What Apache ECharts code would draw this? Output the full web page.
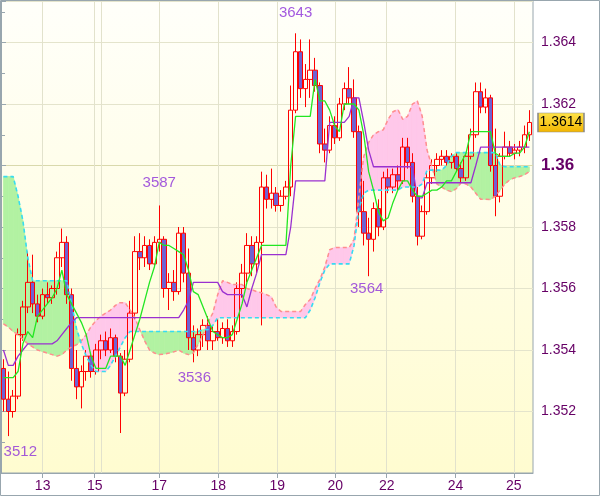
<!DOCTYPE html>
<html><head><meta charset="utf-8">
<script src="https://cdn.jsdelivr.net/npm/echarts@6/dist/echarts.min.js"></script>
<style>html,body{margin:0;padding:0;background:#fff}#c{width:600px;height:497px}</style>
</head><body><div id="c"></div>
<script>
// time of each 2-hour bar, in hours from chart start
const barTime = [1,3,5,7,9,11,13,15,17,19,21,23,25,27,29,31,33,35,37,39,41,43,45,47,49,51,53,55,57,59,61,63,65,67,69,71,73,75,77,79,81,83,85,87,89,91,93,95,97,99,101,103,105,107,109,111,113,115,117,119,121,123,125,127,129,131,133,135,137,139,141,143,145,147,149,151,153,155,157,159,161,163,165,167,169,171,173,175,177,179,181,183,185,187,189,191,193,195,197,199,201,203,205,207,209,211,213,215,217];

const open = [1.3534,1.3524,1.3520,1.3525,1.3545,1.3554,1.3562,1.3555,1.3551,1.3558,
1.3557,1.3560,1.3570,1.3575,1.3558,1.3534,1.3528,1.3533,1.3538,1.3533,
1.3540,1.3543,1.3540,1.3544,1.3538,1.3526,1.3537,1.3552,1.3572,1.3570,
1.3574,1.3568,1.3575,1.3576,1.3560,1.3562,1.3559,1.3578,1.3565,1.3544,
1.3540,1.3545,1.3548,1.3543,1.3546,1.3544,1.3547,1.3543,1.3546,1.3560,
1.3565,1.3574,1.3568,1.3575,1.3593,1.3589,1.3591,1.3587,1.3590,1.3593,
1.3618,1.3637,1.3625,1.3628,1.3631,1.3626,1.3607,1.3605,1.3613,1.3609,
1.3620,1.3625,1.3622,1.3611,1.3585,1.3578,1.3576,1.3586,1.3580,1.3596,
1.3593,1.3597,1.3595,1.3606,1.3601,1.3590,1.3577,1.3585,1.3596,1.3600,
1.3602,1.3603,1.3601,1.3603,1.3599,1.3596,1.3603,1.3610,1.3624,1.3619,
1.3622,1.3600,1.3590,1.3603,1.3606,1.3604,1.3605,1.3606,1.3610];
const high = [1.3537,1.3533,1.3527,1.3547,1.3556,1.3572,1.3571,1.3558,1.3560,1.3562,
1.3561,1.3572,1.35795,1.3577,1.3560,1.3540,1.3535,1.3540,1.3539,1.3542,
1.3545,1.3546,1.3547,1.3545,1.3539,1.3540,1.3556,1.3577,1.3578,1.3577,
1.3576,1.3577,1.3587,1.3577,1.3565,1.3566,1.3580,1.3580,1.3573,1.3548,
1.3547,1.3550,1.3551,1.3548,1.3550,1.3549,1.3550,1.3548,1.3562,1.3568,
1.3578,1.3577,1.3577,1.3598,1.3597,1.3599,1.3593,1.3592,1.3595,1.3626,
1.3643,1.3641,1.3633,1.3641,1.3635,1.3627,1.3612,1.3616,1.3616,1.3622,
1.3627,1.3632,1.3628,1.3613,1.3595,1.3583,1.3588,1.3589,1.3598,1.3599,
1.3599,1.3600,1.3609,1.3609,1.3604,1.3593,1.3587,1.3598,1.3602,1.3604,
1.3605,1.3605,1.3604,1.3604,1.3601,1.3604,1.3612,1.3627,1.3627,1.3625,
1.3623,1.3612,1.3604,1.3611,1.3608,1.3607,1.3608,1.3613,1.3618];
const low = [1.3520,1.3512,1.3518,1.3524,1.3543,1.3552,1.3552,1.3549,1.3550,1.3555,
1.3555,1.3558,1.3567,1.3555,1.3530,1.3524,1.3521,1.3530,1.3531,1.3532,
1.3537,1.3538,1.3539,1.3536,1.3513,1.3525,1.3536,1.3550,1.3566,1.3567,
1.3566,1.3567,1.3572,1.3557,1.3553,1.3556,1.3558,1.3562,1.3540,1.3536,
1.3538,1.3541,1.3540,1.3540,1.3543,1.3542,1.3541,1.3541,1.3545,1.3557,
1.3562,1.3564,1.3565,1.3548,1.3586,1.3586,1.3585,1.3585,1.3589,1.3590,
1.3617,1.3622,1.3619,1.3622,1.3624,1.3604,1.3601,1.3604,1.3607,1.3608,
1.3618,1.3620,1.3609,1.3580,1.3574,1.3564,1.3572,1.3577,1.3579,1.3591,
1.3591,1.3592,1.3594,1.3599,1.3588,1.3574,1.3576,1.3584,1.3594,1.3598,
1.3600,1.3600,1.3599,1.3598,1.3594,1.3595,1.3602,1.3609,1.3617,1.3617,
1.3598,1.35835,1.3588,1.3602,1.3603,1.3602,1.3603,1.3604,1.3608];
const close = [1.3524,1.3520,1.3525,1.3545,1.3554,1.3562,1.3555,1.3551,1.3558,1.3557,
1.3560,1.3570,1.3575,1.3558,1.3534,1.3528,1.3533,1.3538,1.3533,1.3540,
1.3543,1.3540,1.3544,1.3538,1.3526,1.3537,1.3552,1.3572,1.3570,1.3574,
1.3568,1.3575,1.3576,1.3560,1.3562,1.3559,1.3578,1.3565,1.3544,1.3540,
1.3545,1.3548,1.3543,1.3546,1.3544,1.3547,1.3543,1.3546,1.3560,1.3565,
1.3574,1.3568,1.3575,1.3593,1.3589,1.3591,1.3587,1.3590,1.3593,1.3618,
1.3637,1.3625,1.3628,1.3631,1.3626,1.3607,1.3605,1.3613,1.3609,1.3620,
1.3625,1.3622,1.3611,1.3585,1.3578,1.3576,1.3586,1.3580,1.3596,1.3593,
1.3597,1.3595,1.3606,1.3601,1.3590,1.3577,1.3585,1.3596,1.3600,1.3602,
1.3603,1.3601,1.3603,1.3599,1.3596,1.3603,1.3610,1.3624,1.3619,1.3622,
1.3600,1.3590,1.3603,1.3606,1.3604,1.3605,1.3606,1.3610,1.3614];

const tenkan = [1.3531,1.3531,1.3531,1.3533,1.3542,1.3546,1.3544,1.3551,1.3553,1.3555,
1.3557,1.3560,1.3566,1.3558,1.3555,1.3552,1.3549,1.3545,1.3538,1.3534,
1.3534,1.3534,1.3538,1.3538,1.3538,1.3535,1.3540,1.3545,1.3550,1.3556,
1.3562,1.3567,1.3575,1.3574,1.3574,1.3573,1.3572,1.3571,1.3566,1.3559,
1.3558,1.3554,1.3550,1.3546,1.3545,1.3544,1.3544,1.3545,1.3550,1.3555,
1.3562,1.3566,1.3570,1.3574,1.3574,1.3574,1.3574,1.3574,1.3574,1.3600,
1.3616,1.3616,1.3616,1.3616,1.3628,1.3621,1.3621,1.3618,1.3613,1.3611,
1.3620,1.3620,1.3620,1.3618,1.3610,1.3598,1.3592,1.3585,1.3582,1.3583,
1.3588,1.3592,1.3595,1.3595,1.3592,1.3590,1.3590,1.3591,1.3592,1.3592,
1.3593,1.3595,1.3595,1.3598,1.3601,1.3604,1.3611,1.3611,1.3611,1.3611,
1.3611,1.3604,1.3603,1.3603,1.3603,1.3604,1.3604,1.3606,1.3611];
const kijun = [1.3540,1.3535,1.3535,1.3538,1.3540,1.3542,1.3542,1.3542,1.3542,1.3542,
1.3542,1.3543,1.3545,1.3547,1.3549,1.35505,1.35505,1.35505,1.35505,1.35505,
1.35505,1.35505,1.35505,1.35505,1.35505,1.35505,1.35505,1.35505,1.35505,1.35505,
1.35505,1.35505,1.35505,1.35505,1.35505,1.35505,1.35505,1.3553,1.3556,1.3562,
1.3562,1.3562,1.3562,1.3562,1.3562,1.3559,1.3558,1.3558,1.3558,1.3558,
1.3554,1.3560,1.3565,1.3571,1.3571,1.3571,1.3571,1.3571,1.3571,1.3580,
1.3595,1.3595,1.3595,1.3595,1.3595,1.3595,1.3595,1.3614,1.3614,1.3614,
1.3614,1.3616,1.3622,1.3622,1.3614,1.3605,1.35996,1.35996,1.35996,1.35996,
1.35996,1.35996,1.35996,1.35996,1.35996,1.35895,1.35895,1.35944,1.35944,1.35944,
1.35944,1.35944,1.35944,1.35944,1.35944,1.35944,1.35944,1.3600,1.3606,1.3606,
1.3606,1.3606,1.3606,1.3606,1.3606,1.3606,1.3606,1.3606,1.3606];
// leading spans (cyan dashed = spanA, pink dashed = spanB)
const spanA = [1.35964,1.35964,1.35964,1.3590,1.3582,1.3570,1.35625,1.35625,1.35625,1.35625,
1.35625,1.35625,1.35625,1.35625,1.3555,1.3547,1.3542,1.3538,1.3535,1.3533,
1.3533,1.3533,1.3535,1.3538,1.3541,1.3544,1.3546,1.3546,1.3546,1.3546,
1.3546,1.3546,1.3546,1.3546,1.3546,1.3546,1.3546,1.3546,1.3546,1.3546,
1.3546,1.35466,1.35466,1.3548,1.35505,1.35505,1.35505,1.35505,1.35505,1.35505,
1.35505,1.35505,1.35505,1.35505,1.35505,1.35505,1.35505,1.35505,1.35505,1.35505,
1.35505,1.35505,1.35505,1.3553,1.3557,1.3562,1.3566,1.3568,1.3568,1.3568,
1.3568,1.3568,1.3574,1.3586,1.3591,1.3592,1.3592,1.3592,1.3592,1.3592,
1.3592,1.3592,1.3593,1.3593,1.3593,1.3593,1.3594,1.35985,1.35985,1.35985,
1.35985,1.3600,1.3603,1.36042,1.36042,1.36042,1.36042,1.36042,1.36042,1.36042,
1.36042,1.36042,1.3600,1.35996,1.35996,1.35996,1.35996,1.35996,1.35996];
const spanB = [1.35485,1.35475,1.3546,1.3545,1.35435,1.3542,1.3541,1.3540,1.35395,1.3539,
1.35385,1.3538,1.35385,1.3540,1.3541,1.35417,1.3543,1.3545,1.35476,1.35495,
1.3551,1.3552,1.3553,1.35545,1.35554,1.35554,1.3553,1.35505,1.35466,1.3543,
1.3540,1.3539,1.35385,1.35387,1.3539,1.35394,1.3540,1.3539,1.35385,1.3539,
1.3542,1.3545,1.3549,1.3552,1.3558,1.35625,1.3562,1.35613,1.35613,1.35613,
1.3560,1.35596,1.3559,1.35586,1.3558,1.35573,1.3554,1.35525,1.35525,1.35525,
1.35525,1.35525,1.35548,1.35564,1.3560,1.3563,1.3567,1.35726,1.35733,1.35733,
1.35733,1.35733,1.3576,1.3590,1.3603,1.36075,1.3610,1.3611,1.36116,1.3615,
1.36175,1.36182,1.3615,1.3616,1.3620,1.3621,1.3616,1.3605,1.35996,1.3594,
1.3593,1.3592,1.35915,1.35925,1.35944,1.3594,1.3593,1.3591,1.3589,1.3589,
1.35889,1.3590,1.3592,1.3594,1.35954,1.3596,1.35964,1.3597,1.3598];

// day boundaries (hours from chart start) and their labels
const dayStarts = [17.1, 38.5, 41.2, 65.0, 89.2, 113.5, 137.3, 158.4, 186.7, 210.6];
const dayNames  = ['13', '15', '', '17', '18', '19', '20', '22', '24', '25'];

// annotated extremes
const markT     = [3, 65, 79, 121, 151];
const markPrice = [1.3512, 1.3587, 1.3536, 1.3643, 1.3564];
const markText  = ['3512', '3587', '3536', '3643', '3564'];

const chart = echarts.init(document.getElementById('c'), null, {renderer: 'canvas'});
const FONT = 'Liberation Sans';
const AXIS = '#98a6ae';
const LBL = '#660066';
const GREEN = '#b2f2a2';
const PINK = '#ffc8ea';

const candles = barTime.map((t, i) => [t, open[i], close[i], low[i], high[i]]);
const pts = arr => barTime.map((t, i) => [t, arr[i]]);
const cloudSegs = barTime.slice(0, -1).map((t, i) =>
  [t, spanA[i], spanB[i], barTime[i + 1], spanA[i + 1], spanB[i + 1]]);
const labelDays = dayStarts.filter((d, i) => dayNames[i] !== '');
const last = close.length - 1;

const markStyle = [
  {position: 'bottom', distance: 8, offset: [12, 0]},
  {position: 'top', distance: 15, offset: [0, 0]},
  {position: 'bottom', distance: 8, offset: [1, 0]},
  {position: 'top', distance: 12, offset: [0, 0]},
  {position: 'bottom', distance: 5, offset: [-2, 0]}
];

function renderCloud(params, api) {
  const t0 = api.value(0), a0 = api.value(1), b0 = api.value(2);
  const t1 = api.value(3), a1 = api.value(4), b1 = api.value(5);
  const P = (t, v) => api.coord([t, v]);
  const d0 = a0 - b0, d1 = a1 - b1;
  const col = d => (d >= 0 ? GREEN : PINK);
  const poly = (points, fill) => ({type: 'polygon', shape: {points},
    style: {fill, stroke: fill, lineWidth: 0.8}});
  const kids = [];
  if (d0 * d1 >= 0) {
    const d = Math.abs(d0) >= Math.abs(d1) ? d0 : d1;
    kids.push(poly([P(t0, a0), P(t1, a1), P(t1, b1), P(t0, b0)], col(d)));
  } else {
    const f = d0 / (d0 - d1);
    const tc = t0 + f * (t1 - t0), vc = a0 + f * (a1 - a0);
    kids.push(poly([P(t0, a0), P(tc, vc), P(t0, b0)], col(d0)));
    kids.push(poly([P(tc, vc), P(t1, a1), P(t1, b1)], col(d1)));
  }
  return {type: 'group', children: kids};
}

const option = {
  animation: false,
  graphic: [{type: 'rect', silent: true, z: 100, shape: {x: 0.5, y: 0.5, width: 599, height: 495},
             style: {fill: 'none', stroke: AXIS, lineWidth: 1}}],
  grid: {left: 1, top: 1, right: 67, bottom: 24, show: true, borderColor: AXIS, borderWidth: 1,
         backgroundColor: new echarts.graphic.LinearGradient(0, 0, 0, 1, [
           {offset: 0, color: '#fffffa'}, {offset: 1, color: '#fffcd0'}])},
  xAxis: {
    type: 'value', min: 0, max: 218.5,
    axisLine: {show: true, lineStyle: {color: AXIS}},
    axisTick: {show: true, length: 5, customValues: labelDays, lineStyle: {color: AXIS}},
    axisLabel: {customValues: labelDays, color: LBL, fontSize: 14, fontFamily: FONT, margin: 6,
                formatter: v => dayNames[dayStarts.indexOf(v)]},
    splitLine: {show: false}
  },
  yAxis: {
    type: 'value', position: 'right', min: 1.35, max: 1.36535, interval: 0.002,
    axisLine: {show: true, lineStyle: {color: AXIS}},
    axisTick: {show: true, length: 5, lineStyle: {color: AXIS}},
    minorTick: {show: true, splitNumber: 2, length: 4, lineStyle: {color: AXIS}},
    splitLine: {show: true, lineStyle: {color: ['#e4e4cc','#e4e4cc','#e4e4cc','#e4e4cc','#e4e4cc','#d9d9ac','#e4e4cc','#e4e4cc','#e4e4cc']}},
    axisLabel: {margin: 8, color: LBL, fontSize: 14, fontFamily: FONT, showMinLabel: false, showMaxLabel: false,
      formatter: v => Math.abs(v - 1.36) < 1e-9 ? '{b|1.36}' : v.toFixed(3),
      rich: {b: {fontWeight: 'bold', fontSize: 17, color: LBL, fontFamily: FONT}}}
  },
  series: [
    {type: 'line', name: 'days', data: [], z: 1, silent: true,
     markLine: {silent: true, z: 1, symbol: ['none', 'none'], label: {show: false},
                lineStyle: {color: '#e2e2cc', width: 1, type: 'solid'},
                emphasis: {disabled: true},
                data: dayStarts.map(h => ({xAxis: h}))}},
    {type: 'custom', name: 'cloud', z: 2, silent: true, renderItem: renderCloud, data: cloudSegs,
     encode: {x: [0, 3], y: [1, 2, 4, 5]}},
    {type: 'candlestick', name: 'price', z: 3, barWidth: 5, data: candles,
     encode: {x: 0, y: [1, 2, 3, 4]},
     itemStyle: {color: 'rgba(0,0,0,0)', color0: '#6f62d2', borderColor: '#ff0000', borderColor0: '#ff0000', borderWidth: 1},
     markPoint: {
       symbol: 'rect', symbolSize: [46, 19], symbolOffset: [28, 0], z: 10,
       itemStyle: {color: new echarts.graphic.LinearGradient(0, 0, 0, 1, [
         {offset: 0, color: '#ffe44a'}, {offset: 1, color: '#f2b400'}]), borderColor: '#8a8a8a', borderWidth: 1},
       label: {show: true, position: 'inside', color: '#000', fontSize: 14, fontFamily: FONT,
               formatter: p => p.value.toFixed(4)},
       data: [{coord: [218.5, close[last]], value: close[last]}]
     }},
    {type: 'line', name: 'spanB', z: 4, data: pts(spanB), showSymbol: false, symbol: 'none',
     lineStyle: {color: '#ff8e8e', width: 1.5, type: [4, 3]}},
    {type: 'line', name: 'spanA', z: 4, data: pts(spanA), showSymbol: false, symbol: 'none',
     lineStyle: {color: '#36dcf2', width: 1.6, type: [4, 3]}},
    {type: 'line', name: 'kijun', z: 5, data: pts(kijun), showSymbol: false, symbol: 'none',
     lineStyle: {color: '#9a30d0', width: 1.3}},
    {type: 'line', name: 'tenkan', z: 5, data: pts(tenkan), showSymbol: false, symbol: 'none',
     lineStyle: {color: '#22e622', width: 1.3}},
    {type: 'scatter', name: 'marks', z: 6, symbolSize: 1, itemStyle: {color: 'rgba(0,0,0,0)'},
     data: markT.map((t, i) => ({value: [t, markPrice[i], markText[i]],
       label: Object.assign({show: true, formatter: markText[i], color: '#8c30d8', fontSize: 15, fontFamily: FONT}, markStyle[i])}))}
  ]
};
chart.setOption(option);
</script></body></html>
